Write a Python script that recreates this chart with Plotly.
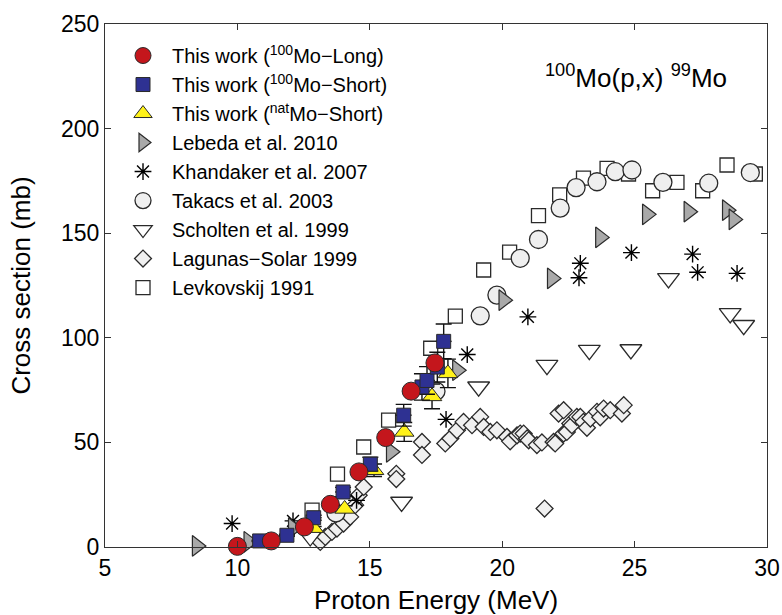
import plotly.graph_objects as go

# --- This work ---
long_e = [10.0, 11.28, 12.53, 13.51, 14.59, 15.6, 16.56, 17.46]
long_xs = [0.3, 2.9, 9.6, 20.4, 35.9, 52.3, 74.5, 88.0]

short_e = [10.84, 11.87, 12.88, 13.99, 15.02, 16.28, 16.97, 17.16, 17.55, 17.79]
short_xs = [2.9, 5.6, 14.0, 26.3, 39.6, 63.0, 76.5, 79.6, 86.0, 98.3]
short_err = [0.3, 0.5, 1.2, 2.2, 3.3, 5.2, 6.3, 6.6, 7.1, 8.3]
short_e_err = [0.3, 0.3, 0.3, 0.3, 0.3, 0.3, 0.3, 0.3, 0.3, 0.3]

nat_e = [12.88, 14.05, 15.16, 16.3, 17.35, 17.95]
nat_xs = [9.0, 18.2, 36.7, 55.0, 72.0, 83.0]
nat_err = [0.8, 1.5, 3.0, 4.5, 5.9, 6.8]

# --- Literature ---
lebeda_e = [8.47, 10.42, 12.1, 15.8, 18.3, 20.05, 21.88, 23.7, 25.47, 27.04, 28.49, 28.74, 30.06]
lebeda_xs = [0.5, 2.5, 9.0, 45.5, 84.5, 118.0, 128.4, 148.0, 159.0, 160.3, 161.0, 156.6, 157.9]

khandaker_e = [9.8, 12.1, 14.5, 17.88, 18.68, 20.97, 22.9, 22.95, 24.88, 27.19, 27.38, 28.87]
khandaker_xs = [11.2, 12.5, 22.3, 61.0, 92.0, 110.0, 128.7, 135.6, 140.7, 140.0, 131.3, 130.8]

takacs_e = [13.72, 17.5, 19.17, 19.8, 20.68, 21.37, 22.19, 22.79, 23.58, 24.27, 24.9, 26.07, 27.8, 29.37]
takacs_xs = [16.3, 74.5, 110.5, 120.4, 138.0, 147.0, 162.0, 171.8, 174.6, 179.4, 180.2, 174.3, 173.9, 179.0]

scholten_e = [12.75, 16.2, 19.11, 21.69, 23.29, 24.86, 26.28, 28.61, 29.12]
scholten_xs = [5.0, 21.5, 76.6, 86.9, 94.1, 94.4, 128.4, 111.7, 106.0]

lagunas_e = [13.13, 13.32, 13.57, 13.76, 14.01, 14.26, 14.45, 14.58, 14.77, 16.0, 16.0,
             16.97, 16.97, 17.85, 18.04, 18.29, 18.54, 18.86, 19.17, 19.3, 19.55, 19.8,
             20.18, 20.3, 20.56, 20.68, 20.81, 20.94, 21.0, 21.31, 21.5, 21.6, 21.94, 22.0,
             22.13, 22.32, 22.32, 22.44, 22.57, 22.63, 22.82, 22.95, 23.07, 23.2, 23.33,
             23.58, 23.7, 23.83, 24.08, 24.52, 24.59]
lagunas_xs = [2.4, 4.8, 7.2, 8.8, 11.2, 14.4, 20.0, 24.7, 28.7, 35.0, 32.5,
              50.2, 44.0, 49.5, 51.9, 55.8, 59.8, 58.2, 62.2, 57.4, 55.0, 55.8,
              52.6, 50.5, 53.4, 54.2, 54.2, 51.9, 51.0, 48.7, 50.0, 18.4, 50.2, 49.5,
              63.8, 65.4, 54.2, 55.0, 59.0, 58.2, 62.2, 62.2, 59.8, 57.0, 61.4,
              64.6, 62.0, 66.2, 65.4, 63.8, 67.8]

levkovskij_e = [12.82, 13.78, 14.77, 15.71, 17.3, 18.23, 19.3, 20.28, 21.37, 22.17, 23.07,
                23.96, 24.77, 25.68, 26.6, 27.57, 28.49, 29.56]
levkovskij_xs = [17.6, 34.8, 47.8, 60.6, 95.0, 110.4, 132.4, 141.0, 158.4, 168.3, 176.3,
                 181.0, 178.3, 170.3, 174.3, 170.3, 182.6, 178.3]

x_ticks = [5, 10, 15, 20, 25, 30]
y_ticks = [0, 50, 100, 150, 200, 250]

FONT = "Liberation Sans, Arial, sans-serif"
EDGE = "#2a2a2a"

fig = go.Figure()


def add(name, x, y, symbol, size, fill, rank, lw=1.0, line_color=EDGE, **kw):
    fig.add_trace(go.Scatter(
        x=x, y=y, mode="markers", name=name, legendrank=rank,
        cliponaxis=False,
        marker=dict(symbol=symbol, size=size, color=fill,
                    line=dict(color=line_color, width=lw)),
        **kw,
    ))


# literature data drawn first, this work on top
add("Levkovskij 1991", levkovskij_e, levkovskij_xs, "square", 14, "white", 9, lw=1.3)
add("Lagunas\u2212Solar 1999", lagunas_e, lagunas_xs, "diamond", 13, "#f0f0f0", 8, lw=1.3)
add("Scholten et al. 1999", scholten_e, scholten_xs, "triangle-down", 19, "white", 7, lw=1.3)
add("Takacs et al. 2003", takacs_e, takacs_xs, "circle", 18, "#efefef", 6, lw=1.3)
add("Khandaker et al. 2007", khandaker_e, khandaker_xs, "asterisk-open", 14, "black", 5,
    lw=1.4, line_color="black")
add("Lebeda et al. 2010", lebeda_e, lebeda_xs, "triangle-right", 18, "#a9a9a9", 4, lw=1.2)
add("This work (<sup>nat</sup>Mo\u2212Short)", nat_e, nat_xs, "triangle-up", 17, "#fff21a", 3,
    error_y=dict(type="data", array=nat_err, color="#111", thickness=1.4, width=8))
add("This work (<sup>100</sup>Mo\u2212Short)", short_e, short_xs, "square", 14, "#2e3192", 2,
    error_y=dict(type="data", array=short_err, color="#111", thickness=1.4, width=8),
    error_x=dict(type="data", array=short_e_err, color="#111", thickness=1.4, width=0))
add("This work (<sup>100</sup>Mo\u2212Long)", long_e, long_xs, "circle", 18, "#c4161c", 1)

axis_common = dict(
    showline=True, linecolor="#333", linewidth=1, mirror="ticks",
    ticks="inside", ticklen=6, tickcolor="#333", tickwidth=1,
    showgrid=False, zeroline=False, automargin=False,
    tickfont=dict(family=FONT, size=23, color="black"),
)

fig.update_xaxes(range=[5, 30], tickvals=x_ticks, ticktext=[str(v) for v in x_ticks],
                 title=dict(text="Proton Energy (MeV)", font=dict(family=FONT, size=26, color="black"),
                            standoff=13),
                 **axis_common)
fig.update_yaxes(range=[0, 250], tickvals=y_ticks, ticktext=[str(v) for v in y_ticks],
                 title=dict(text="Cross section (mb)", font=dict(family=FONT, size=26, color="black"),
                            standoff=22),
                 **axis_common)

fig.add_annotation(
    text="<sup>100</sup>Mo(p,x) <sup>99</sup>Mo",
    xref="paper", yref="paper", x=0.661, y=0.899,
    xanchor="left", yanchor="middle", showarrow=False,
    font=dict(family=FONT, size=26, color="black"),
)

fig.update_layout(
    width=782, height=615,
    margin=dict(l=105, r=15, t=24, b=68),
    plot_bgcolor="white", paper_bgcolor="white",
    showlegend=True,
    legend=dict(
        x=0.0136, y=0.977, xanchor="left", yanchor="top",
        bgcolor="rgba(0,0,0,0)", borderwidth=0,
        font=dict(family=FONT, size=20, color="black"),
        tracegroupgap=0, itemsizing="trace", itemwidth=48,
    ),
)

fig.write_html("out.html")
